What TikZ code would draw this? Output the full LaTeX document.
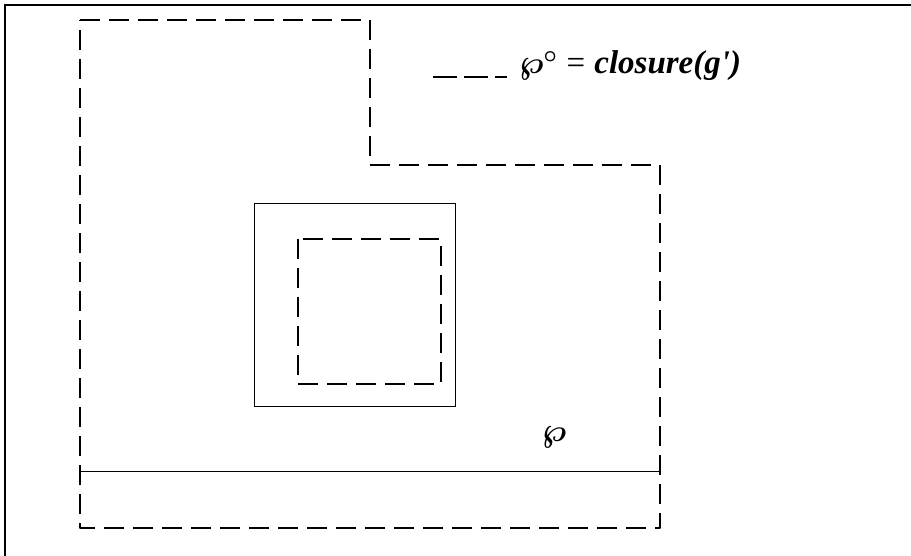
\documentclass[tikz,border=0pt]{standalone}
\usepackage{fix-cm}
\usepackage{fontspec}
\setmainfont{Liberation Serif}
\begin{document}
\begin{tikzpicture}[x=1pt,y=-1pt,
  dashline/.style={line width=2.6pt,dash pattern=on 20pt off 9pt,line cap=butt,line join=round},
  thinline/.style={line width=0.9pt},
  lbl/.style={inner sep=0pt,font=\fontsize{33}{38}\selectfont\boldmath}]
\useasboundingbox (0,0) rectangle (911,556);
% frame (top and left only)
\coordinate (fTR) at (911,5);
\coordinate (fTL) at (5,5);
\coordinate (fBL) at (5,556);
\draw[line width=1.2pt] (fTR) -- (fTL) -- (fBL);
% outer dashed region
\coordinate (o1) at (80,20);
\coordinate (o2) at (370,20);
\coordinate (o3) at (370,165);
\coordinate (o4) at (660,165);
\coordinate (o5) at (660,528);
\coordinate (o6) at (80,528);
\draw[dashline] (o1) -- (o2) -- (o3) -- (o4) -- (o5) -- (o6) -- cycle;
% solid separating line
\coordinate (sL) at (80,471);
\coordinate (sR) at (660,471);
\draw[thinline] (sL) -- (sR);
% solid square
\coordinate (q1) at (254,203);
\coordinate (q2) at (455,406);
\draw[thinline] (q1) rectangle (q2);
% inner dashed square
\coordinate (d1) at (298,239);
\coordinate (d2) at (441,384);
\draw[dashline] (d1) rectangle (d2);
% legend
\coordinate (lg1) at (433,77);
\coordinate (lg2) at (507,77);
\draw[line width=2.6pt,dash pattern=on 24pt off 7pt] (lg1) -- (lg2);
\node[lbl,anchor=base west] (legend) at (519,74) {$\wp^{\circ}$\;=\;\textbf{\textit{closure(g\textquotesingle)}}};
% region label
\node[lbl] (wp) at (554,437) {$\wp$};
\end{tikzpicture}
\end{document}
